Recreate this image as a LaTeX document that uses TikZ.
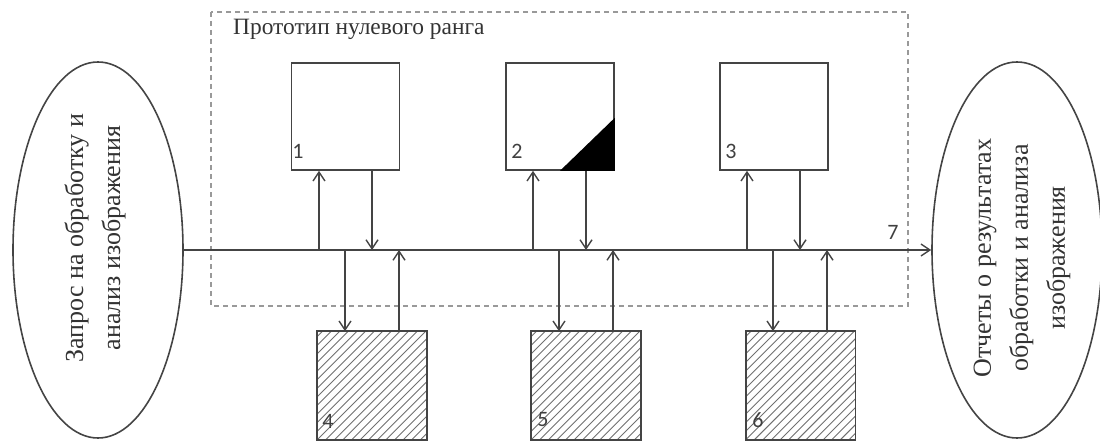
\documentclass[tikz,border=0pt]{standalone}
\usepackage{fontspec}
\setmainfont{Liberation Serif}
\newfontfamily\numfont{Carlito}
\usetikzlibrary{shapes.geometric,arrows.meta}
\definecolor{lineC}{HTML}{444444}
\definecolor{hatchC}{HTML}{707070}
\definecolor{dashC}{HTML}{999999}
\tikzset{
  oval/.style={ellipse,draw=lineC,line width=1.6pt,minimum width=170pt,minimum height=376pt,inner sep=0pt},
  ovaltext/.style={rotate=90,align=center,font=\fontsize{26pt}{37pt}\selectfont,text=black!80},
  blockshape/.style={rectangle,line width=1.6pt,minimum width=108pt,minimum height=107pt,inner sep=0pt},
  blockbox/.style={blockshape,draw=lineC},
  numlabel/.style={font=\numfont\fontsize{22pt}{22pt}\selectfont,text=black!75,inner sep=0pt},
  arr/.style={draw=lineC,line width=1.6pt,-{Straight Barb[length=9pt,width=12pt,line width=1.4pt]}},
  plain/.style={draw=lineC,line width=1.6pt},
  frame/.style={draw=dashC,line width=1.1pt,dash pattern=on 5pt off 4pt}
}
\begin{document}
\begin{tikzpicture}[x=1pt,y=-1pt]
\useasboundingbox (0,0) rectangle (1100,441);
% dashed frame
\draw[frame] (211,12) rectangle (908,306);
\node[anchor=west,font=\fontsize{23.4pt}{23.4pt}\selectfont,text=black!80,inner sep=0pt] (title) at (233,29) {Прототип нулевого ранга};
% ellipses
\node[oval] (req) at (98,250) {};
\node[ovaltext] (reqtext) at (95,238) {Запрос на обработку и\\анализ изображения};
\node[oval] (rep) at (1017,250) {};
\node[ovaltext] (reptext) at (1022,258) {Отчеты о результатах\\обработки и анализа\\изображения};
% main bus
\draw[arr] (req.east) -- (rep.west);
\node[numlabel] (n7) at (893,232) {7};
% upper boxes
\node[blockbox] (b1) at (345.5,116.5) {};
\node[blockbox] (b2) at (560,116.5) {};
\node[blockbox] (b3) at (774,116.5) {};
\fill[black] (b2.south) -- (b2.south east) -- ([yshift=53pt]b2.south east) -- cycle;
% lower boxes (hatched)
\node[blockshape] (b4) at (372,385.5) {};
\node[blockshape] (b5) at (586,385.5) {};
\node[blockshape] (b6) at (800.5,385.5) {};
\foreach \b in {b4,b5,b6}{
  \begin{scope}
    \clip (\b.south west) rectangle (\b.north east);
    \foreach \k in {-13,...,13}{
      \draw[hatchC,line width=0.9pt] ([xshift=\k*8.6pt]\b.south west) -- ++(120,-120);
    }
  \end{scope}
  \draw[plain] (\b.south west) rectangle (\b.north east);
}
% labels
\node[numlabel] (l1) at (298,151) {1};
\node[numlabel] (l2) at (517,151) {2};
\node[numlabel] (l3) at (731,151) {3};
\node[numlabel] (l4) at (328,421) {4};
\node[numlabel] (l5) at (543,420) {5};
\node[numlabel] (l6) at (758,420) {6};
% connectors
\foreach \i/\up/\lo in {0/b1/b4,1/b2/b5,2/b3/b6}{
  \coordinate (ua\i) at (319+214*\i,250);
  \coordinate (ub\i) at (372+214*\i,250);
  \coordinate (la\i) at (345+214*\i,250);
  \coordinate (lb\i) at (399+214*\i,250);
  \draw[arr] (ua\i) -- (ua\i |- \up.south);
  \draw[arr] (ub\i |- \up.south) -- (ub\i);
  \draw[arr] (la\i) -- (la\i |- \lo.north);
  \draw[arr] (lb\i |- \lo.north) -- (lb\i);
}
\end{tikzpicture}
\end{document}
